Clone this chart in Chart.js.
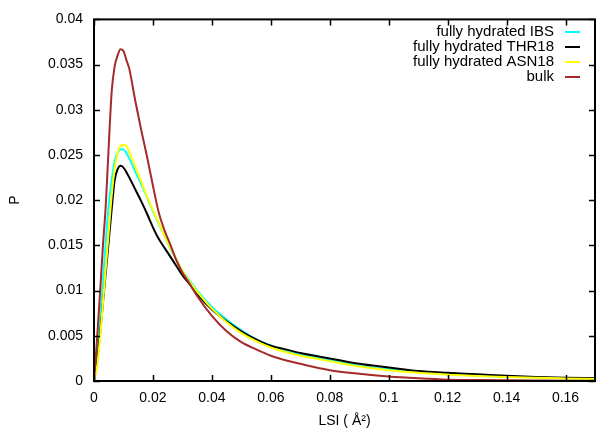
<!DOCTYPE html>
<html>
<head>
<meta charset="utf-8">
<script src="https://cdn.jsdelivr.net/npm/chart.js@4/dist/chart.umd.min.js"></script>
<style>
  html, body { margin: 0; padding: 0; background: #fff; }
  #wrap { width: 596px; height: 428px; position: relative; }
</style>
</head>
<body>
<div id="wrap"><canvas id="lsi"></canvas></div>
<script>
// LSI distribution
const lsi = [0, 0.001, 0.002, 0.003, 0.004, 0.005, 0.006, 0.007, 0.008, 0.009, 0.010, 0.011, 0.012,
  0.014, 0.016, 0.018, 0.020, 0.022, 0.024, 0.026, 0.028, 0.030, 0.032, 0.035, 0.040, 0.045,
  0.050, 0.055, 0.060, 0.065, 0.070, 0.080, 0.090, 0.100, 0.110, 0.120, 0.130, 0.140, 0.150,
  0.160, 0.170];

const ibs = [0, 0.0025, 0.0065, 0.011, 0.0155, 0.0195, 0.0222, 0.0243, 0.0252, 0.0256, 0.0256, 0.0252, 0.0246,
  0.0232, 0.0218, 0.0203, 0.0188, 0.0174, 0.016, 0.0146, 0.0134, 0.0122, 0.0113, 0.0100, 0.0082, 0.0068,
  0.0056, 0.0046, 0.0039, 0.0033, 0.0029, 0.0023, 0.0017, 0.0013, 0.001, 0.0008, 0.0006, 0.00048, 0.00038,
  0.0003, 0.00025];

const thr18 = [0, 0.002, 0.005, 0.0085, 0.012, 0.0155, 0.019, 0.0222, 0.0234, 0.0238, 0.0236, 0.0231, 0.0225,
  0.0212, 0.0199, 0.0185, 0.0170, 0.0157, 0.0147, 0.0137, 0.0127, 0.0117, 0.0109, 0.0096, 0.0079, 0.0066,
  0.0055, 0.0046, 0.0039, 0.0035, 0.0031, 0.0025, 0.0019, 0.0015, 0.0011, 0.0009, 0.00075, 0.00058, 0.00045,
  0.00036, 0.0003];

const asn18 = [0, 0.0015, 0.0045, 0.0085, 0.0125, 0.0165, 0.0205, 0.0235, 0.0252, 0.026, 0.0261, 0.026, 0.0253,
  0.0237, 0.0221, 0.0204, 0.0189, 0.0175, 0.016, 0.0147, 0.0134, 0.0122, 0.0112, 0.0099, 0.0080, 0.0065,
  0.0053, 0.0044, 0.0037, 0.0032, 0.0028, 0.0022, 0.0016, 0.0012, 0.0009, 0.0007, 0.00055, 0.00045, 0.00035,
  0.00028, 0.00022];

const bulk = [0, 0.0045, 0.0095, 0.0148, 0.0195, 0.026, 0.032, 0.0348, 0.036, 0.0367, 0.0365, 0.0355, 0.0345,
  0.031, 0.0278, 0.0248, 0.0216, 0.0186, 0.0166, 0.0150, 0.0133, 0.0120, 0.0110, 0.0094, 0.0072, 0.0055,
  0.0043, 0.0035, 0.0028, 0.0023, 0.0019, 0.0012, 0.0008, 0.0005, 0.0003, 0.00015, 0.0001, 0.00007, 0.00005,
  0.00004, 0.00003];

const seriesNames = ["fully hydrated IBS", "fully hydrated THR18", "fully hydrated ASN18", "bulk"];
const seriesColors = ["#00ffff", "#000000", "#ffff00", "#a52a2a"];

const xTicks = [0, 0.02, 0.04, 0.06, 0.08, 0.1, 0.12, 0.14, 0.16];
const yTicks = [0, 0.005, 0.01, 0.015, 0.02, 0.025, 0.03, 0.035, 0.04];

const FONT = "'Liberation Sans', Arial, sans-serif";

function points(ys) {
  return lsi.map((x, i) => ({ x, y: ys[i] }));
}

// gnuplot-like frame, inward ticks on all sides, and key at top right
const gnuplotFrame = {
  id: "gnuplotFrame",
  afterDatasetsDraw(chart) {
    const { ctx, chartArea: a, scales } = chart;
    ctx.save();
    ctx.strokeStyle = "#000";
    ctx.lineWidth = 1.5;
    const tl = 6;
    ctx.beginPath();
    xTicks.forEach(v => {
      const px = Math.round(scales.x.getPixelForValue(v)) + 0.5;
      ctx.moveTo(px, a.bottom); ctx.lineTo(px, a.bottom - tl);
      ctx.moveTo(px, a.top); ctx.lineTo(px, a.top + tl);
    });
    yTicks.forEach(v => {
      const py = Math.round(scales.y.getPixelForValue(v)) + 0.5;
      ctx.moveTo(a.left, py); ctx.lineTo(a.left + tl, py);
      ctx.moveTo(a.right, py); ctx.lineTo(a.right - tl, py);
    });
    ctx.stroke();
    ctx.lineWidth = 2;
    ctx.strokeRect(a.left, a.top, a.right - a.left, a.bottom - a.top);

    // key
    ctx.font = "15px " + FONT;
    ctx.textAlign = "right";
    ctx.textBaseline = "middle";
    chart.data.datasets.forEach((ds, i) => {
      const y = 32 + i * 15;
      ctx.fillStyle = "#000";
      ctx.fillText(ds.label, 554, y);
      ctx.strokeStyle = ds.borderColor;
      ctx.lineWidth = 2;
      ctx.beginPath();
      ctx.moveTo(565, y); ctx.lineTo(580, y);
      ctx.stroke();
    });
    ctx.restore();
  }
};

const order = [3, 2, 1, 0]; // bulk drawn last (on top), like gnuplot
const allSeries = [ibs, thr18, asn18, bulk];

new Chart(document.getElementById("lsi"), {
  type: "line",
  data: {
    datasets: allSeries.map((ys, i) => ({
      label: seriesNames[i],
      data: points(ys),
      borderColor: seriesColors[i],
      backgroundColor: seriesColors[i],
      borderWidth: 2,
      pointRadius: 0,
      cubicInterpolationMode: "monotone",
      fill: false,
      order: order[i]
    }))
  },
  options: {
    responsive: true,
    maintainAspectRatio: false,
    animation: false,
    events: [],
    layout: { padding: { top: 18, right: 1, left: 0, bottom: 0 } },
    plugins: {
      legend: { display: false },
      tooltip: { enabled: false }
    },
    scales: {
      x: {
        type: "linear",
        min: 0,
        max: 0.17,
        afterBuildTicks: s => { s.ticks = xTicks.map(v => ({ value: v })); },
        afterFit: s => { s.height = 47; },
        ticks: {
          color: "#000",
          font: { family: FONT, size: 14 },
          padding: 9,
          maxRotation: 0,
          callback: v => String(v)
        },
        grid: { display: false, drawTicks: false },
        border: { display: false },
        title: {
          display: true,
          text: "LSI ( Å²)",
          color: "#000",
          font: { family: FONT, size: 14, lineHeight: 1 },
          padding: { top: 0, bottom: 0 }
        }
      },
      y: {
        type: "linear",
        min: 0,
        max: 0.04,
        afterBuildTicks: s => { s.ticks = yTicks.map(v => ({ value: v })); },
        afterFit: s => { s.width = 94; },
        ticks: {
          color: "#000",
          font: { family: FONT, size: 14 },
          padding: 11,
          callback: v => String(v)
        },
        grid: { display: false, drawTicks: false },
        border: { display: false },
        title: {
          display: true,
          text: "P",
          color: "#000",
          font: { family: FONT, size: 14, lineHeight: 1 },
          padding: { top: 8, bottom: 0 }
        }
      }
    }
  },
  plugins: [gnuplotFrame]
});
</script>
</body>
</html>
